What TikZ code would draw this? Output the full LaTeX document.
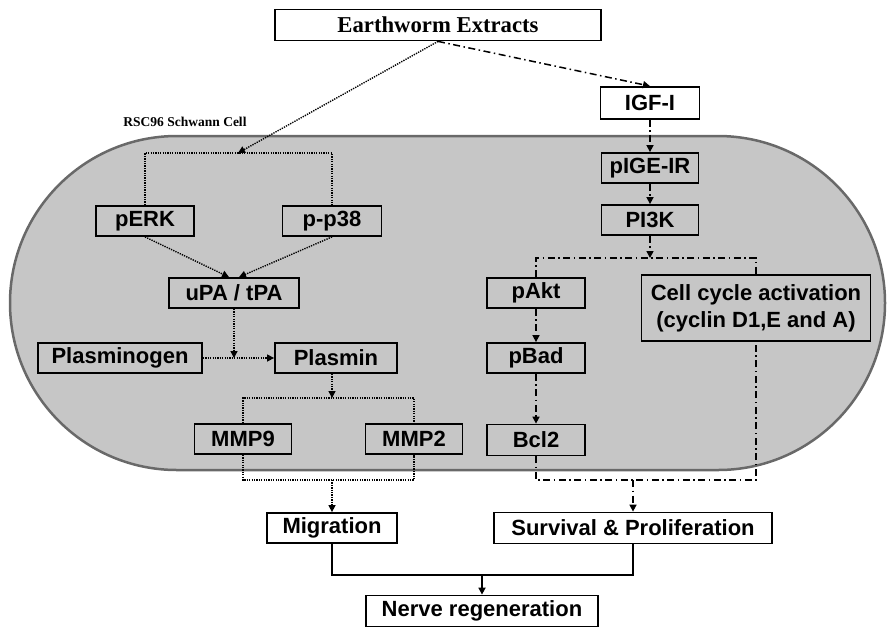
\documentclass[tikz,border=0pt]{standalone}
\usepackage{fontspec}
\setmainfont{Liberation Serif}
\newfontfamily\boxfont{Liberation Sans}
\usetikzlibrary{arrows.meta}
\definecolor{cellfill}{RGB}{198,198,198}
\definecolor{cellborder}{RGB}{105,105,105}
\begin{document}
\begin{tikzpicture}[x=1pt,y=-1pt,
  box/.style={draw=black, line width=1.8pt, fill=cellfill, inner sep=0pt,
    font=\boxfont\bfseries\fontsize{22}{27}\selectfont, minimum height=30pt, align=center},
  wbox/.style={box, fill=white},
  dotln/.style={line width=1.4pt, dash pattern=on 1.3pt off 1.1pt},
  dashdot/.style={line width=1.5pt, dash pattern=on 7pt off 3.5pt on 1.5pt off 3.5pt},
  tip/.style={-{Triangle[length=7pt,width=7pt]}},
  solidln/.style={line width=1.6pt}]
\useasboundingbox (0,0) rectangle (893,630);
% cell
\draw[cellborder, line width=2.5pt, fill=cellfill, rounded corners=167pt] (10,136) rectangle (885,470);
\node[font=\bfseries\fontsize{13.5}{15}\selectfont] (lbl) at (185,122) {RSC96 Schwann Cell};
% nodes
\node[wbox, minimum width=326pt, minimum height=31pt, font=\bfseries\fontsize{22.7}{26}\selectfont] (ee) at (438,25) {Earthworm Extracts};
\node[wbox, minimum width=99pt, minimum height=32pt] (igf) at (650,103) {IGF-I};
\node[box, minimum width=97pt] (pigf) at (650,168) {pIGE-IR};
\node[box, minimum width=97pt] (pi3k) at (650,220) {PI3K};
\node[box, minimum width=98pt] (pakt) at (536,293) {pAkt};
\node[box, minimum width=229pt, minimum height=66pt] (ccycle) at (756,308) {Cell cycle activation\\(cyclin D1,E and A)};
\node[box, minimum width=98pt] (pbad) at (536,358) {pBad};
\node[box, minimum width=98pt, minimum height=31pt] (bcl2) at (536,440) {Bcl2};
\node[box, minimum width=98pt] (perk) at (145,221) {pERK};
\node[box, minimum width=99pt] (pp38) at (332,221) {p-p38};
\node[box, minimum width=130pt] (upa) at (234,293) {uPA / tPA};
\node[box, minimum width=164pt] (plg) at (120,358) {Plasminogen};
\node[box, minimum width=122pt] (plasmin) at (336,358) {Plasmin};
\node[box, minimum width=97pt] (mmp9) at (243,439) {MMP9};
\node[box, minimum width=97pt] (mmp2) at (414,439) {MMP2};
\node[wbox, minimum width=130pt] (migr) at (332,528) {Migration};
\node[wbox, minimum width=278pt, minimum height=31pt] (surv) at (633,528) {Survival \& Proliferation};
\node[wbox, minimum width=232pt, minimum height=31pt] (nerve) at (482,611) {Nerve regeneration};
% coordinates
\coordinate (ktop) at (238,153);
\coordinate (abr) at (650,258);
\coordinate (bbr) at (633,480);
\coordinate (pj) at (234,358);
\coordinate (mtop) at (332,398);
\coordinate (mbot) at (332,480);
\coordinate (jn) at (482,575);
% left (dotted) pathway
\draw[dotln, tip] (ee.south) -- (ktop);
\draw[dotln] (perk.north) |- (ktop) -| (pp38.north);
\draw[dotln, tip] (perk.south) -- ([xshift=-5pt]upa.north);
\draw[dotln, tip] (pp38.south) -- ([xshift=5pt]upa.north);
\draw[dotln, tip] (upa) -- (pj);
\draw[dotln, tip] (plg) -- (plasmin);
\draw[dotln, tip] (plasmin.south -| mtop) -- (mtop);
\draw[dotln] (mmp9.north) |- (mtop) -| (mmp2.north);
\draw[dotln] (mmp9.south) |- (mbot) -| (mmp2.south);
\draw[dotln, tip] (mbot) -- (migr.north);
% right (dash-dot) pathway
\draw[dashdot, tip] (ee.south) -- (igf.north);
\draw[dashdot, tip] (igf) -- (pigf);
\draw[dashdot, tip] (pigf) -- (pi3k);
\draw[dashdot, tip] (pi3k) -- (abr);
\draw[dashdot] (pakt.north) |- (abr) -| (ccycle.north);
\draw[dashdot, tip] (pakt) -- (pbad);
\draw[dashdot, tip] (pbad) -- (bcl2);
\draw[dashdot] (bcl2.south) |- (bbr) -| (ccycle.south);
\draw[dashdot, tip] (bbr) -- (surv.north);
% outcome
\draw[solidln] (migr.south) |- (jn) -| (surv.south);
\draw[solidln, tip] (jn) -- (nerve.north);
\end{tikzpicture}
\end{document}
